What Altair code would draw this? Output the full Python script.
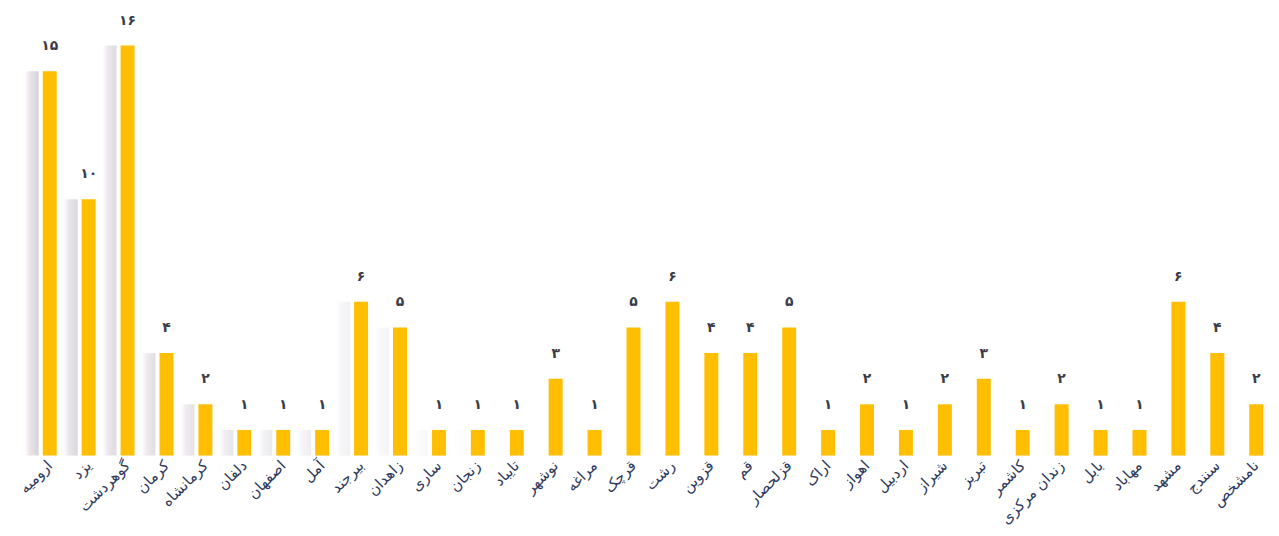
import altair as alt
import pandas as pd

cities = ["ارومیه", "یزد", "گوهردشت", "کرمان", "کرمانشاه", "دلفان", "اصفهان", "آمل",
          "بیرجند", "زاهدان", "ساری", "زنجان", "تایباد", "نوشهر", "مراغه", "قرچک",
          "رشت", "قزوین", "قم", "قزلحصار", "اراک", "اهواز", "اردبیل", "شیراز",
          "تبریز", "کاشمر", "زندان مرکزی", "بابل", "مهاباد", "مشهد", "سنندج", "نامشخص"]
counts = [15, 10, 16, 4, 2, 1, 1, 1,
          6, 5, 1, 1, 1, 3, 1, 5,
          6, 4, 4, 5, 1, 2, 1, 2,
          3, 1, 2, 1, 1, 6, 4, 2]

fa_digits = str.maketrans("0123456789", "۰۱۲۳۴۵۶۷۸۹")
df = pd.DataFrame({
    "city": cities,
    "count": counts,
    "label": [str(c).translate(fa_digits) for c in counts],
    "i": list(range(len(cities))),
})

xenc = alt.X("city:N", sort=cities, title=None,
             scale=alt.Scale(paddingInner=0.64, paddingOuter=0.2),
             axis=alt.Axis(labelAngle=-45, labelAlign="right", labelBaseline="middle",
                           labelFont="DejaVu Sans", labelFontSize=15, labelColor="#2e3a5e",
                           labelPadding=7, ticks=False, domain=False, labelLimit=200))
yenc = alt.Y("count:Q", title=None, scale=alt.Scale(domain=[0, 16], nice=False),
             axis=None)

base = alt.Chart(df)

grad_left = alt.Gradient(gradient="linear", x1=0, x2=1, y1=0, y2=0,
                         stops=[alt.GradientStop(color="#ffffff", offset=0),
                                alt.GradientStop(color="#e2dbe2", offset=0.4),
                                alt.GradientStop(color="#c9c9d1", offset=1)])
grad_right = alt.Gradient(gradient="linear", x1=0, x2=1, y1=0, y2=0,
                          stops=[alt.GradientStop(color="#c9c9d1", offset=0),
                                 alt.GradientStop(color="#e2e2e8", offset=0.6),
                                 alt.GradientStop(color="#ffffff", offset=1)])

shadow_left = base.transform_calculate(
    op="max(0, 1 - datum.i / 12) * 0.8"
).mark_bar(color=grad_left, size=14).encode(
    x=xenc, y=yenc, xOffset=alt.value(-11),
    opacity=alt.Opacity("op:Q", scale=None, legend=None)
)
shadow_right = base.transform_calculate(
    op="max(0, (datum.i - 24) / 7) * 0.8"
).mark_bar(color=grad_right, size=14).encode(
    x=xenc, y=yenc, xOffset=alt.value(11),
    opacity=alt.Opacity("op:Q", scale=None, legend=None)
)

bars = base.mark_bar(color="#FFBE00", size=14).encode(x=xenc, y=yenc)

labels = base.mark_text(font="DejaVu Sans", fontSize=14, fontWeight="bold",
                        color="#3a3d48", baseline="bottom", dy=-18).encode(
    x=xenc, y=yenc, text="label:N")

chart = alt.layer(shadow_left, shadow_right, bars, labels).properties(
    width=1239, height=411,
    autosize=alt.AutoSizeParams(type="none"),
    padding={"left": 27, "top": 37, "right": 0, "bottom": 80},
    background="white",
).configure_view(stroke=None)

chart.save("out.html", embed_options={"renderer": "svg", "actions": False})
